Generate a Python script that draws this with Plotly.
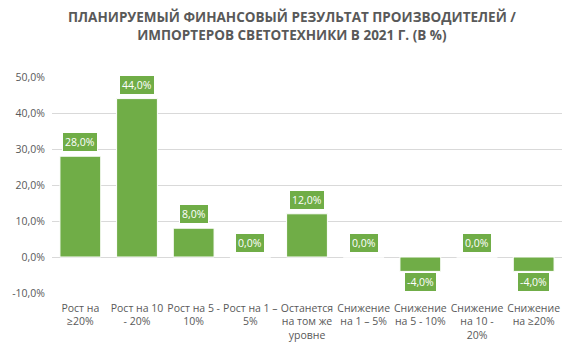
import plotly.graph_objects as go

categories = ["Рост на<br>≥20%", "Рост на 10<br>- 20%", "Рост на 5 -<br>10%", "Рост на 1 –<br>5%",
              "Останется<br>на том же<br>уровне", "Снижение<br>на 1 – 5%", "Снижение<br>на 5 - 10%",
              "Снижение<br>на 10 -<br>20%", "Снижение<br>на ≥20%"]
values = [28.0, 44.0, 8.0, 0.0, 12.0, 0.0, -4.0, 0.0, -4.0]
tick_vals = [-10, 0, 10, 20, 30, 40, 50]
tick_text = ["-10,0%", "0,0%", "10,0%", "20,0%", "30,0%", "40,0%", "50,0%"]
title = "ПЛАНИРУЕМЫЙ ФИНАНСОВЫЙ РЕЗУЛЬТАТ ПРОИЗВОДИТЕЛЕЙ /<br>ИМПОРТЕРОВ СВЕТОТЕХНИКИ В 2021 Г. (В %)"

green = "#70AD47"
fig = go.Figure(go.Bar(x=categories, y=values, marker=dict(color=green, line=dict(color="#ffffff", width=1)),
                       width=0.72))

for c, v in zip(categories, values):
    fig.add_annotation(x=c, y=v, text=f"{v:.1f}%".replace(".", ","), showarrow=False,
                       yshift=14 if v >= 0 else -11,
                       font=dict(family="Open Sans", size=10.5, color="#ffffff"),
                       bgcolor=green, bordercolor="#ffffff", borderwidth=1, borderpad=2)

fig.add_annotation(xref="paper", yref="paper", x=0.47, y=1.235, xanchor="center", yanchor="middle",
                   text="<b>" + title + "</b>", showarrow=False,
                   font=dict(family="Open Sans", size=13.5, color="#595959"))

fig.update_layout(
    width=571, height=347,
    margin=dict(l=52, r=9, t=77, b=54),
    paper_bgcolor="#ffffff", plot_bgcolor="#ffffff",
    showlegend=False,
    bargap=0.28,
)
fig.update_yaxes(range=[-10, 50], tickvals=tick_vals, ticktext=tick_text, showgrid=True,
                 gridcolor="#D9D9D9", gridwidth=1, zeroline=True, zerolinecolor="#D9D9D9",
                 zerolinewidth=1, showline=False, automargin=False,
                 tickfont=dict(family="Open Sans", size=10.5, color="#595959"), ticklabelstandoff=6)
fig.update_xaxes(showline=False, showgrid=False, tickangle=0, ticklabelstandoff=7, automargin=False,
                 tickfont=dict(family="Open Sans", size=10.5, color="#595959"))

fig.write_html("out.html")
